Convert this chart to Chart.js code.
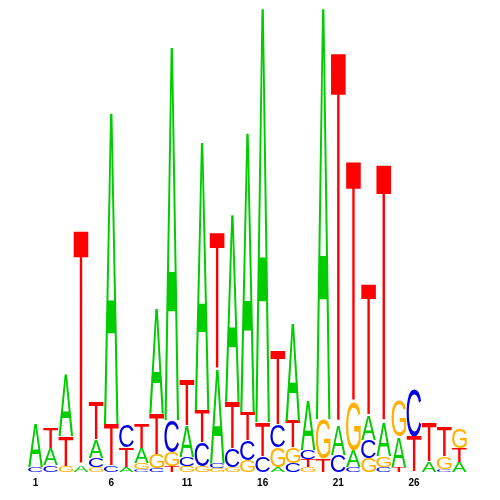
<!DOCTYPE html>
<html>
<head>
<meta charset="utf-8">
<script src="https://cdn.jsdelivr.net/npm/chart.js@4.4.1/dist/chart.umd.min.js"></script>
<style>
  html, body { margin: 0; padding: 0; background: #fff; }
  #wrap { width: 500px; height: 500px; position: relative; }
</style>
</head>
<body>
<div id="wrap"><canvas id="logo"></canvas></div>
<script>
// positions 1..29
const positions = Array.from({ length: 29 }, (_, i) => String(i + 1));

// letter heights in bits
const heightA = [0.19, 0.073, 0.263, 0.026, 0.078, 1.341, 0.022, 0.065, 0.453, 1.608, 0.134, 1.155, 0.405, 0.806, 1.203, 1.784, 0.022, 0.422, 0.207, 1.772, 0.129, 0.069, 0.103, 0.142, 0.129, 0, 0.043, 0, 0.043];
const heightC = [0.022, 0.03, 0, 0, 0.039, 0.026, 0.095, 0.013, 0.017, 0.138, 0.039, 0.103, 0.022, 0.078, 0.086, 0.069, 0.095, 0.039, 0.039, 0, 0.073, 0.022, 0.078, 0.022, 0, 0.203, 0, 0.013, 0];
const heightG = [0, 0, 0.026, 0, 0.022, 0, 0, 0.026, 0.06, 0.06, 0.026, 0.026, 0.017, 0.022, 0.052, 0, 0.086, 0.065, 0.022, 0.172, 0, 0.207, 0.06, 0.047, 0.155, 0, 0, 0.052, 0.086];
const heightT = [0, 0.091, 0.129, 1.013, 0.164, 0.181, 0.086, 0.108, 0.172, 0.026, 0.194, 0.138, 0.586, 0.203, 0.121, 0.147, 0.319, 0.116, 0.034, 0.056, 1.603, 1.039, 0.565, 1.112, 0.022, 0.151, 0.168, 0.129, 0.06];

const letterColors = { A: '#00cc00', C: '#0000e0', G: '#ffb000', T: '#ff0000' };

const totals = positions.map((_, i) => heightA[i] + heightC[i] + heightG[i] + heightT[i]);

// draw one glyph stretched to fill a box
const drawGlyph = (ctx, ch, left, top, w, h, color) => {
  if (h < 0.5) return;
  ctx.save();
  ctx.font = '100px "Liberation Sans", Arial, sans-serif';
  ctx.textAlign = 'left';
  ctx.textBaseline = 'alphabetic';
  const m = ctx.measureText(ch);
  const gw = m.actualBoundingBoxLeft + m.actualBoundingBoxRight;
  const gh = m.actualBoundingBoxAscent + m.actualBoundingBoxDescent;
  ctx.translate(left, top);
  ctx.scale(w / gw, h / gh);
  ctx.fillStyle = color;
  ctx.fillText(ch, m.actualBoundingBoxLeft, m.actualBoundingBoxAscent);
  ctx.restore();
};

const logoPlugin = {
  id: 'logoLetters',
  afterDatasetsDraw(chart) {
    const { ctx, scales: { x, y } } = chart;
    const step = x.getPixelForValue(1) - x.getPixelForValue(0);
    const w = step * 0.97;
    positions.forEach((_, i) => {
      const stack = [
        ['A', heightA[i]], ['C', heightC[i]], ['G', heightG[i]], ['T', heightT[i]],
      ].filter((d) => d[1] > 0).sort((a, b) => a[1] - b[1]);
      const cx = x.getPixelForValue(i);
      let base = 0;
      stack.forEach(([ch, v]) => {
        const yBottom = y.getPixelForValue(base);
        const yTop = y.getPixelForValue(base + v);
        drawGlyph(ctx, ch, cx - w / 2, yTop, w, yBottom - yTop, letterColors[ch]);
        base += v;
      });
    });
  },
};

new Chart(document.getElementById('logo'), {
  type: 'bar',
  data: {
    labels: positions,
    datasets: [{
      data: totals,
      backgroundColor: 'rgba(0,0,0,0)',
      borderWidth: 0,
    }],
  },
  options: {
    responsive: true,
    maintainAspectRatio: false,
    animation: false,
    // chart area: x 28..467, y 8..472
    layout: { padding: { left: 28, right: 33, top: 8, bottom: 6 } },
    plugins: { legend: { display: false }, tooltip: { enabled: false } },
    scales: {
      x: {
        grid: { display: false, drawTicks: false },
        border: { display: false },
        ticks: {
          autoSkip: false,
          maxRotation: 0,
          padding: 5,
          color: '#000',
          font: { family: '"Liberation Sans", Arial, sans-serif', size: 10, weight: 'bold' },
          callback: (value, index) => (index % 5 === 0 ? positions[index] : ''),
        },
      },
      y: { display: false, min: 0, max: 2 },
    },
  },
  plugins: [logoPlugin],
});
</script>
</body>
</html>
